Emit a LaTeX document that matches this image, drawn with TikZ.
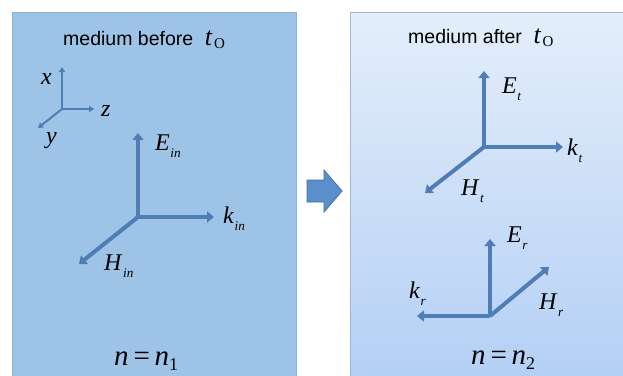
\documentclass[tikz,border=0pt]{standalone}
\usepackage{fontspec}
\setmainfont{Liberation Serif}
\newfontfamily\sansf{Liberation Sans}
\usetikzlibrary{arrows.meta}
\definecolor{leftfill}{HTML}{9DC3E6}
\definecolor{leftdraw}{HTML}{8AB0D6}
\definecolor{righttop}{HTML}{E4EEFA}
\definecolor{rightbot}{HTML}{B3CFF5}
\definecolor{rightdraw}{HTML}{9BB9DE}
\definecolor{vec}{HTML}{4F7DB6}
\definecolor{bafill}{HTML}{5A8FCB}
\definecolor{badraw}{HTML}{41719C}
\newcommand\vlab[2]{\textit{#1}\kern0.02em\raisebox{-0.3em}{\scalebox{0.55}{\textit{#2}}}}
\tikzset{
  vecarrow/.style={draw=vec, line width=4pt, -{Triangle[width=11pt,length=7pt]}},
  axarrow/.style={draw=vec, line width=2pt, -{Triangle[width=6pt,length=5pt]}},
  lab/.style={anchor=base west, inner sep=0pt, font=\fontsize{24}{26}\selectfont},
  axlab/.style={anchor=base west, inner sep=0pt, font=\fontsize{24}{26}\selectfont\itshape},
  nlab/.style={anchor=base west, inner sep=0pt, font=\fontsize{29}{31}\selectfont},
  title/.style={anchor=base west, inner sep=0pt, font=\sansf\fontsize{19.5}{21}\selectfont},
}
\begin{document}
\begin{tikzpicture}[x=1pt,y=-1pt]
\useasboundingbox (0,0) rectangle (623,375);
\fill[white] (0,0) rectangle (623,375);
% panels
\path[fill=leftfill, draw=leftdraw, line width=1pt] (12,12) rectangle (296,385);
\path[top color=righttop, bottom color=rightbot, draw=rightdraw, line width=1pt] (350,12) rectangle (640,385);
% titles
\node[title] (t1) at (63,45) {medium before\hspace{0.6em}{\fontsize{26}{28}\selectfont\rmfamily\textit{t}\kern0.05em\raisebox{-0.12em}{\fontsize{15}{15}\selectfont O}}};
\node[title] (t2) at (408,43) {medium after\hspace{0.6em}{\fontsize{26}{28}\selectfont\rmfamily\textit{t}\kern0.05em\raisebox{-0.12em}{\fontsize{15}{15}\selectfont O}}};
% small axes
\coordinate (ao) at (62,109);
\coordinate (ax) at (62,67);
\coordinate (az) at (94,109);
\coordinate (ay) at (38,128);
\draw[axarrow] (ao) -- (ax);
\draw[axarrow] (ao) -- (az);
\draw[axarrow] (ao) -- (ay);
\node[axlab] (lx) at (41,84) {x};
\node[axlab] (lz) at (101,116) {z};
\node[axlab] (ly) at (46,143) {y};
% incident triad
\coordinate (oi) at (138,217);
\coordinate (ei) at (138,133);
\coordinate (ki) at (214,217);
\coordinate (hi) at (79,264);
\draw[vecarrow] (oi) -- (ei);
\draw[vecarrow] (oi) -- (ki);
\draw[vecarrow] (oi) -- (hi);
\node[lab] (lei) at (155,150) {\vlab{E}{in}};
\node[lab] (lki) at (223,223) {\vlab{k}{in}};
\node[lab] (lhi) at (104,270) {\vlab{H}{in}};
\node[nlab] (n1) at (114,365) {\textit{n}\,=\,\textit{n}\raisebox{-0.18em}{\fontsize{18}{18}\selectfont 1}};
% block arrow
\path[fill=bafill, draw=badraw, line width=0.8pt] (307,180) -- (324,180) -- (324,170) -- (342,191) -- (324,212) -- (324,202) -- (307,202) -- cycle;
% transmitted triad
\coordinate (ot) at (484,147);
\coordinate (et) at (484,71);
\coordinate (kt) at (563,147);
\coordinate (ht) at (425,193);
\draw[vecarrow] (ot) -- (et);
\draw[vecarrow] (ot) -- (kt);
\draw[vecarrow] (ot) -- (ht);
\node[lab] (let) at (502,93) {\vlab{E}{t}};
\node[lab] (lkt) at (567,155) {\vlab{k}{t}};
\node[lab] (lht) at (461,195) {\vlab{H}{t}};
% reflected triad
\coordinate (or) at (490,316);
\coordinate (er) at (490,239);
\coordinate (kr) at (417,316);
\coordinate (hr) at (549,267);
\draw[vecarrow] (or) -- (er);
\draw[vecarrow] (or) -- (kr);
\draw[vecarrow] (or) -- (hr);
\node[lab] (ler) at (507,242) {\vlab{E}{r}};
\node[lab] (lkr) at (409,298) {\vlab{k}{r}};
\node[lab] (lhr) at (539,309) {\vlab{H}{r}};
\node[nlab] (n2) at (471,364) {\textit{n}\,=\,\textit{n}\raisebox{-0.18em}{\fontsize{18}{18}\selectfont 2}};
\end{tikzpicture}
\end{document}
